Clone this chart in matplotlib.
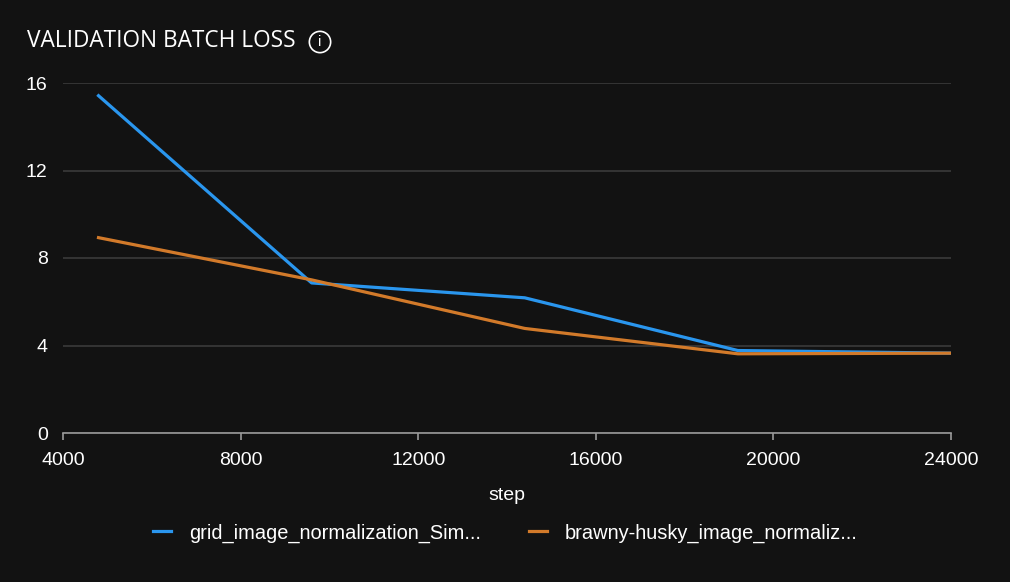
import matplotlib
matplotlib.use("Agg")
import matplotlib.pyplot as plt

steps = [4800, 9600, 14400, 19200, 24000]
grid_loss = [15.42, 6.86, 6.18, 3.77, 3.65]
husky_loss = [8.93, 7.0, 4.78, 3.62, 3.65]
labels = ["grid_image_normalization_Sim...", "brawny-husky_image_normaliz..."]
colors = ["#2a96ee", "#d27a2a"]
x_ticks = [4000, 8000, 12000, 16000, 20000, 24000]
y_ticks = [0, 4, 8, 12, 16]

bg = "#121212"
plt.rcParams["font.family"] = ["Liberation Sans", "DejaVu Sans"]

fig = plt.figure(figsize=(10.1, 5.82), dpi=100, facecolor=bg)
ax = fig.add_axes([63 / 1010, 1 - 433 / 582, 888 / 1010, 350 / 582], facecolor=bg)

ax.plot(steps, grid_loss, color=colors[0], lw=2.3, label=labels[0], solid_joinstyle="round")
ax.plot(steps, husky_loss, color=colors[1], lw=2.3, label=labels[1], solid_joinstyle="round")

ax.set_xlim(4000, 24000)
ax.set_ylim(0, 16)
ax.set_xticks(x_ticks)
ax.set_yticks(y_ticks)
ax.grid(axis="y", color="#3a3a3a", lw=1.2)
ax.set_axisbelow(True)
for s in ["top", "right", "left"]:
    ax.spines[s].set_visible(False)
ax.spines["bottom"].set_color("#9a9a9a")
ax.spines["bottom"].set_linewidth(1.2)
ax.tick_params(axis="x", colors="#9a9a9a", length=5, width=1.2, pad=9, labelsize=14, labelcolor="white")
ax.tick_params(axis="y", length=0, pad=11, labelsize=14, labelcolor="white")
ax.set_xlabel("step", color="white", fontsize=14, labelpad=13)

fig.text(27 / 1010, 1 - 41 / 582, "VALIDATION BATCH LOSS", color="white", fontsize=16.3,
         va="center", ha="left", family=["Open Sans", "DejaVu Sans"])
fig.text(320 / 1010, 1 - 42 / 582, "i", color="white", fontsize=10.5, va="center", ha="center",
         bbox=dict(boxstyle="circle,pad=0.25", fc="none", ec="white", lw=1.2))

leg = fig.legend(loc="center", bbox_to_anchor=(0.5, 1 - 533 / 582), ncol=2, frameon=False,
                 fontsize=14.4, handlelength=0.9, handletextpad=0.9, columnspacing=2.4)
for t in leg.get_texts():
    t.set_color("white")

fig.savefig("out.png", dpi=100, facecolor=bg)
